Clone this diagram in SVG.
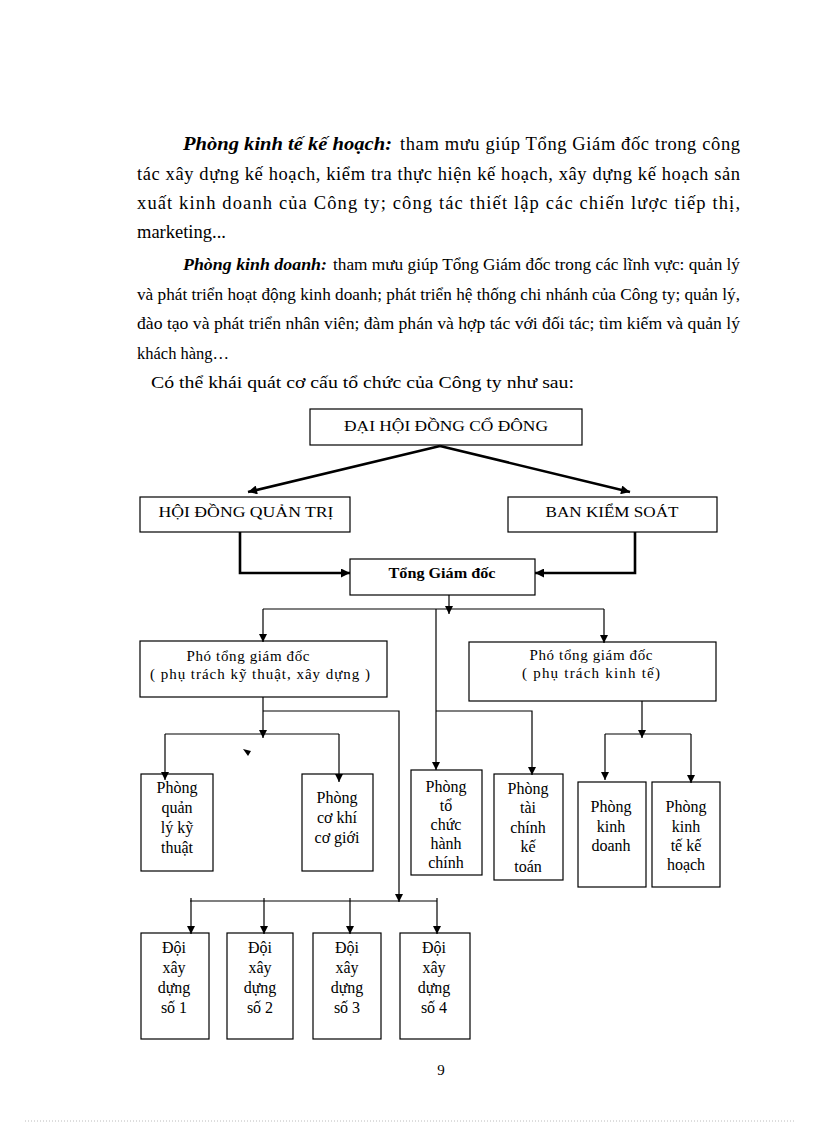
<svg xmlns="http://www.w3.org/2000/svg" width="816" height="1123" viewBox="0 0 816 1123">
<style>
.body{font-family:"Liberation Serif","Times New Roman",serif;font-size:18.5px;fill:#000}
.b2{font-family:"Liberation Serif","Times New Roman",serif;font-size:16.5px;fill:#000}
.bi{font-weight:bold;font-style:italic}
.box{fill:#fff;stroke:#000;stroke-width:1.2}
.t{font-family:"Liberation Serif","Times New Roman",serif;font-size:15px;fill:#000;text-anchor:middle}
.s{font-family:"Liberation Serif","Times New Roman",serif;font-size:16px;fill:#000;text-anchor:middle}
.thin{fill:none;stroke:#000;stroke-width:1.2}
.thick{fill:none;stroke:#000;stroke-width:2.6}
</style>
<defs>
<marker id="ah" viewBox="0 0 10 10" refX="10" refY="5" markerUnits="userSpaceOnUse" markerWidth="8" markerHeight="8" orient="auto"><path d="M0,0 L10,5 L0,10 z" fill="#000"/></marker>
<marker id="ahb" viewBox="0 0 10 10" refX="10" refY="5" markerUnits="userSpaceOnUse" markerWidth="10" markerHeight="9" orient="auto"><path d="M0,0 L10,5 L0,10 z" fill="#000"/></marker>
</defs>
<rect width="816" height="1123" fill="#fff"/>

<g id="text">
<text class="body bi" x="183" y="150" textLength="209" lengthAdjust="spacingAndGlyphs">Phòng kinh tế kế hoạch:</text>
<text class="body" x="400" y="150" textLength="340" lengthAdjust="spacing">tham mưu giúp Tổng Giám đốc trong công</text>
<text class="body" x="137" y="180" textLength="603" lengthAdjust="spacing">tác xây dựng kế hoạch, kiểm tra thực hiện kế hoạch, xây dựng kế hoạch sản</text>
<text class="body" x="137" y="209" textLength="603" lengthAdjust="spacing">xuất kinh doanh của Công ty; công tác thiết lập các chiến lược tiếp thị,</text>
<text class="body" x="137" y="238">marketing...</text>
<text class="b2 bi" x="183" y="270" textLength="144" lengthAdjust="spacingAndGlyphs">Phòng kinh doanh:</text>
<text class="b2" x="333" y="270" textLength="407" lengthAdjust="spacingAndGlyphs">tham mưu giúp Tổng Giám đốc trong các lĩnh vực: quản lý</text>
<text class="b2" x="137" y="300" textLength="603" lengthAdjust="spacingAndGlyphs">và phát triển hoạt động kinh doanh; phát triển hệ thống chi nhánh của Công ty; quản lý,</text>
<text class="b2" x="137" y="329" textLength="603" lengthAdjust="spacingAndGlyphs">đào tạo và phát triển nhân viên; đàm phán và hợp tác với đối tác; tìm kiếm và quản lý</text>
<text class="b2" x="137" y="359">khách hàng…</text>
<text class="b2" x="151" y="388" font-size="17" textLength="423" lengthAdjust="spacingAndGlyphs">Có thể khái quát cơ cấu tổ chức của Công ty như sau:</text>
<text class="t" x="441" y="1075">9</text>
</g>

<g id="dhdcd">
<rect class="box" x="310" y="409" width="272" height="36"/>
<text class="t" x="446" y="431" textLength="204" lengthAdjust="spacingAndGlyphs">ĐẠI HỘI ĐỒNG CỔ ĐÔNG</text>
</g>
<g id="hdqt">
<rect class="box" x="140" y="497" width="210" height="35"/>
<text class="t" x="246" y="517" textLength="175" lengthAdjust="spacingAndGlyphs">HỘI ĐỒNG QUẢN TRỊ</text>
</g>
<g id="bks">
<rect class="box" x="508" y="497" width="209" height="35"/>
<text class="t" x="612" y="517" textLength="133" lengthAdjust="spacingAndGlyphs">BAN KIỂM SOÁT</text>
</g>
<g id="tgd">
<rect class="box" x="350" y="559" width="185" height="36"/>
<text class="t" x="442" y="578" font-weight="bold" font-size="14" textLength="107" lengthAdjust="spacingAndGlyphs">Tổng Giám đốc</text>
</g>
<g id="ptgd-kt">
<rect class="box" x="140" y="641" width="247" height="56"/>
<text class="t" x="248" y="661" textLength="123" lengthAdjust="spacing">Phó tổng giám  đốc</text>
<text class="t" x="260" y="679" textLength="220" lengthAdjust="spacing">( phụ trách kỹ thuật, xây dựng )</text>
</g>
<g id="ptgd-ktt">
<rect class="box" x="469" y="642" width="247" height="59"/>
<text class="t" x="591" y="660" textLength="123" lengthAdjust="spacing">Phó tổng giám  đốc</text>
<text class="t" x="591" y="678" textLength="138" lengthAdjust="spacing">( phụ trách kinh tế)</text>
</g>
<g id="p-qlkt">
<rect class="box" x="141" y="774" width="72" height="97"/>
<text class="s" x="177" y="793">Phòng</text>
<text class="s" x="177" y="813">quản</text>
<text class="s" x="177" y="833">lý kỹ</text>
<text class="s" x="177" y="853">thuật</text>
</g>
<g id="p-ckcg">
<rect class="box" x="302" y="774" width="71" height="97"/>
<text class="s" x="337" y="803">Phòng</text>
<text class="s" x="337" y="823">cơ khí</text>
<text class="s" x="337" y="843">cơ giới</text>
</g>
<g id="p-tchc">
<rect class="box" x="411" y="770" width="71" height="105"/>
<text class="s" x="446" y="792">Phòng</text>
<text class="s" x="446" y="811">tổ</text>
<text class="s" x="446" y="830">chức</text>
<text class="s" x="446" y="849">hành</text>
<text class="s" x="446" y="868">chính</text>
</g>
<g id="p-tckt">
<rect class="box" x="494" y="774" width="69" height="106"/>
<text class="s" x="528" y="794">Phòng</text>
<text class="s" x="528" y="813">tài</text>
<text class="s" x="528" y="833">chính</text>
<text class="s" x="528" y="852">kế</text>
<text class="s" x="528" y="872">toán</text>
</g>
<g id="p-kd">
<rect class="box" x="578" y="782" width="68" height="105"/>
<text class="s" x="611" y="812">Phòng</text>
<text class="s" x="611" y="832">kinh</text>
<text class="s" x="611" y="851">doanh</text>
</g>
<g id="p-ktkh">
<rect class="box" x="652" y="782" width="68" height="105"/>
<text class="s" x="686" y="812">Phòng</text>
<text class="s" x="686" y="832">kinh</text>
<text class="s" x="686" y="851">tế kế</text>
<text class="s" x="686" y="870">hoạch</text>
</g>
<g id="doi1">
<rect class="box" x="141" y="933" width="68" height="106"/>
<text class="s" x="174" y="953">Đội</text>
<text class="s" x="174" y="973">xây</text>
<text class="s" x="174" y="993">dựng</text>
<text class="s" x="174" y="1013">số 1</text>
</g>
<g id="doi2">
<rect class="box" x="227" y="933" width="66" height="106"/>
<text class="s" x="260" y="953">Đội</text>
<text class="s" x="260" y="973">xây</text>
<text class="s" x="260" y="993">dựng</text>
<text class="s" x="260" y="1013">số 2</text>
</g>
<g id="doi3">
<rect class="box" x="313" y="933" width="68" height="106"/>
<text class="s" x="347" y="953">Đội</text>
<text class="s" x="347" y="973">xây</text>
<text class="s" x="347" y="993">dựng</text>
<text class="s" x="347" y="1013">số 3</text>
</g>
<g id="doi4">
<rect class="box" x="400" y="933" width="70" height="106"/>
<text class="s" x="434" y="953">Đội</text>
<text class="s" x="434" y="973">xây</text>
<text class="s" x="434" y="993">dựng</text>
<text class="s" x="434" y="1013">số 4</text>
</g>

<g id="connectors">
<line class="thick" x1="440" y1="446" x2="248" y2="492" marker-end="url(#ahb)"/>
<line class="thick" x1="440" y1="446" x2="630" y2="492" marker-end="url(#ahb)"/>
<polyline class="thick" points="240,532 240,573 350,573" marker-end="url(#ahb)"/>
<polyline class="thick" points="635,532 635,573 535,573" marker-end="url(#ahb)"/>
<line class="thin" x1="449" y1="595" x2="449" y2="614" marker-end="url(#ah)"/>
<line class="thin" x1="263" y1="609" x2="604" y2="609"/>
<line class="thin" x1="263" y1="609" x2="263" y2="642" marker-end="url(#ah)"/>
<line class="thin" x1="604" y1="609" x2="604" y2="643" marker-end="url(#ah)"/>
<line class="thin" x1="436" y1="609" x2="436" y2="770" marker-end="url(#ah)"/>
<polyline class="thin" points="436,711 532,711 532,775" marker-end="url(#ah)"/>
<line class="thin" x1="263" y1="697" x2="263" y2="738" marker-end="url(#ah)"/>
<polyline class="thin" points="263,711 399,711 399,902" marker-end="url(#ah)"/>
<line class="thin" x1="165" y1="734" x2="339" y2="734"/>
<line class="thin" x1="165" y1="734" x2="165" y2="780" marker-end="url(#ah)"/>
<line class="thin" x1="339" y1="734" x2="339" y2="782" marker-end="url(#ah)"/>
<polygon points="243,749 251,751 248,756" fill="#000"/>
<line class="thin" x1="642" y1="701" x2="642" y2="738" marker-end="url(#ah)"/>
<line class="thin" x1="605" y1="734" x2="605" y2="780" marker-end="url(#ah)"/>
<line class="thin" x1="605" y1="734" x2="691" y2="734"/>
<line class="thin" x1="691" y1="734" x2="691" y2="783" marker-end="url(#ah)"/>
<line class="thin" x1="190" y1="901" x2="437" y2="901"/>
<line class="thin" x1="191" y1="898" x2="191" y2="934" marker-end="url(#ah)"/>
<line class="thin" x1="264" y1="898" x2="264" y2="934" marker-end="url(#ah)"/>
<line class="thin" x1="350" y1="898" x2="350" y2="934" marker-end="url(#ah)"/>
<line class="thin" x1="437" y1="898" x2="437" y2="934" marker-end="url(#ah)"/>
</g>
<line x1="25" y1="1121" x2="795" y2="1121" stroke="#bbb" stroke-width="1" stroke-dasharray="1,2"/>
</svg>
